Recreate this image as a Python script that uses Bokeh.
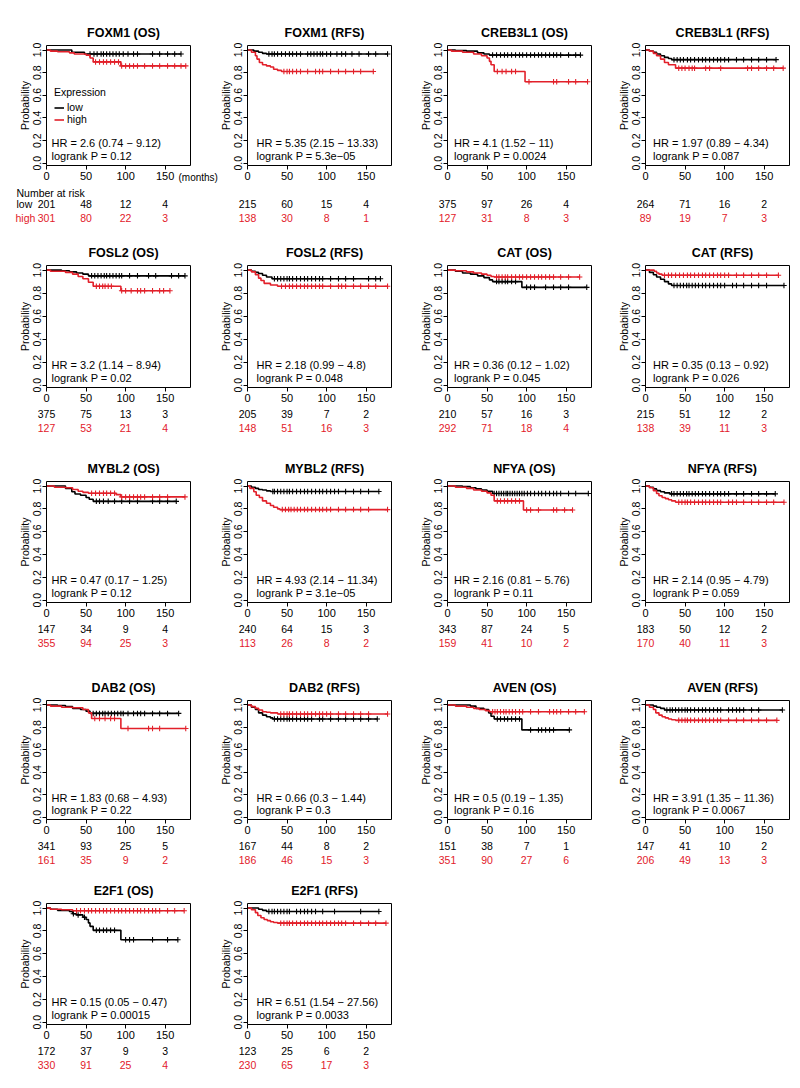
import numpy as np
from bokeh.plotting import figure
from bokeh.layouts import row, column
from bokeh.models import (Legend, LegendItem, FixedTicker, NumeralTickFormatter, Range1d,
                          LinearAxis, BoxAnnotation)
from bokeh.core.properties import value
from bokeh.embed import file_html
from bokeh.resources import INLINE

FONT = "Liberation Sans"
RED = "#E2202A"
BLACK = "#000000"

# ---------------- data ----------------
titles = ["FOXM1 (OS)", "FOXM1 (RFS)", "CREB3L1 (OS)", "CREB3L1 (RFS)",
          "FOSL2 (OS)", "FOSL2 (RFS)", "CAT (OS)", "CAT (RFS)",
          "MYBL2 (OS)", "MYBL2 (RFS)", "NFYA (OS)", "NFYA (RFS)",
          "DAB2 (OS)", "DAB2 (RFS)", "AVEN (OS)", "AVEN (RFS)",
          "E2F1 (OS)", "E2F1 (RFS)"]

hr_text = ["HR = 2.6 (0.74 − 9.12)", "HR = 5.35 (2.15 − 13.33)", "HR = 4.1 (1.52 − 11)", "HR = 1.97 (0.89 − 4.34)",
           "HR = 3.2 (1.14 − 8.94)", "HR = 2.18 (0.99 − 4.8)", "HR = 0.36 (0.12 − 1.02)", "HR = 0.35 (0.13 − 0.92)",
           "HR = 0.47 (0.17 − 1.25)", "HR = 4.93 (2.14 − 11.34)", "HR = 2.16 (0.81 − 5.76)", "HR = 2.14 (0.95 − 4.79)",
           "HR = 1.83 (0.68 − 4.93)", "HR = 0.66 (0.3 − 1.44)", "HR = 0.5 (0.19 − 1.35)", "HR = 3.91 (1.35 − 11.36)",
           "HR = 0.15 (0.05 − 0.47)", "HR = 6.51 (1.54 − 27.56)"]

logrank_p = ["0.12", "5.3e−05", "0.0024", "0.087",
             "0.02", "0.048", "0.045", "0.026",
             "0.12", "3.1e−05", "0.11", "0.059",
             "0.22", "0.3", "0.16", "0.0067",
             "0.00015", "0.0033"]

risk_times = [0, 50, 100, 150]
risk_low = [[201, 48, 12, 4], [215, 60, 15, 4], [375, 97, 26, 4], [264, 71, 16, 2],
            [375, 75, 13, 3], [205, 39, 7, 2], [210, 57, 16, 3], [215, 51, 12, 2],
            [147, 34, 9, 4], [240, 64, 15, 3], [343, 87, 24, 5], [183, 50, 12, 2],
            [341, 93, 25, 5], [167, 44, 8, 2], [151, 38, 7, 1], [147, 41, 10, 2],
            [172, 37, 9, 3], [123, 25, 6, 2]]
risk_high = [[301, 80, 22, 3], [138, 30, 8, 1], [127, 31, 8, 3], [89, 19, 7, 3],
             [127, 53, 21, 4], [148, 51, 16, 3], [292, 71, 18, 4], [138, 39, 11, 3],
             [355, 94, 25, 3], [113, 26, 8, 2], [159, 41, 10, 2], [170, 40, 11, 3],
             [161, 35, 9, 2], [186, 46, 15, 3], [351, 90, 27, 6], [206, 49, 13, 3],
             [330, 91, 25, 4], [230, 65, 17, 3]]

# low expression: event times, survival after each event, last follow-up, censor times (months)
low_t = [[0, 32, 48], [0, 8, 14, 19, 24], [0, 10, 24, 38, 46, 53], [0, 5, 10, 14, 19, 24, 29, 33],
         [0, 19, 29, 38, 46, 53], [0, 5, 10, 14, 19, 24, 31], [0, 10, 19, 29, 38, 46, 53, 57, 94], [0, 5, 10, 14, 19, 24, 29, 33],
         [0, 24, 32, 36, 43, 50, 54, 59], [0, 5, 10, 14, 19, 24, 29], [0, 19, 29, 36, 43, 50, 57], [0, 5, 10, 14, 19, 24, 31],
         [0, 14, 24, 33, 43, 50, 55], [0, 5, 10, 14, 19, 24, 29, 32], [0, 29, 36, 46, 52, 55, 59, 94], [0, 10, 14, 19, 24],
         [0, 5, 14, 29, 33, 38, 46, 50, 53, 55, 59, 94], [0, 14, 19, 24]]
low_s = [[1, 0.98, 0.965], [1, 0.99, 0.98, 0.97, 0.965], [1, 0.995, 0.99, 0.975, 0.965, 0.955], [1, 0.99, 0.98, 0.965, 0.95, 0.935, 0.925, 0.915],
         [1, 0.995, 0.985, 0.975, 0.965, 0.95], [1, 0.99, 0.98, 0.97, 0.955, 0.94, 0.925], [1, 0.99, 0.975, 0.965, 0.95, 0.935, 0.915, 0.9, 0.85], [1, 0.98, 0.96, 0.94, 0.92, 0.9, 0.88, 0.866],
         [1, 0.98, 0.95, 0.93, 0.92, 0.9, 0.885, 0.866], [1, 0.99, 0.98, 0.97, 0.965, 0.958, 0.952], [1, 0.995, 0.985, 0.975, 0.965, 0.955, 0.935], [1, 0.99, 0.975, 0.96, 0.95, 0.94, 0.932],
         [1, 0.995, 0.985, 0.97, 0.96, 0.945, 0.925], [1, 0.98, 0.96, 0.93, 0.91, 0.895, 0.885, 0.875], [1, 0.99, 0.97, 0.96, 0.93, 0.9, 0.875, 0.778], [1, 0.99, 0.98, 0.97, 0.955],
         [1, 0.99, 0.98, 0.97, 0.95, 0.94, 0.92, 0.9, 0.87, 0.84, 0.805, 0.723], [1, 0.99, 0.98, 0.97]]
low_end = [170, 177, 168, 165, 175, 168, 176, 175, 164, 166, 178, 164, 167, 164, 154, 173, 166, 166]
low_cens = [[55, 60, 64, 69, 72, 76, 80, 84, 88, 92, 97, 103, 110, 115, 134, 143, 153, 162, 170],
            [27, 31, 34, 38, 43, 48, 53, 57, 62, 67, 76, 80, 84, 88, 92, 95, 100, 105, 113, 119, 124, 132, 141, 153, 162, 177],
            [57, 62, 67, 72, 76, 81, 86, 91, 95, 100, 105, 110, 115, 119, 124, 129, 134, 138, 143, 153, 162, 168],
            [36, 40, 44, 48, 53, 57, 62, 67, 72, 76, 81, 86, 91, 95, 100, 105, 115, 124, 134, 143, 153, 165],
            [57, 61, 65, 69, 73, 76, 80, 84, 88, 92, 95, 105, 115, 129, 138, 158, 167, 175],
            [34, 38, 42, 46, 50, 53, 57, 62, 67, 72, 76, 81, 86, 91, 95, 105, 115, 124, 134, 153, 162, 168],
            [62, 65, 69, 73, 76, 81, 86, 100, 105, 110, 124, 134, 143, 153, 176],
            [36, 40, 44, 48, 52, 55, 59, 63, 67, 72, 76, 81, 86, 91, 95, 100, 110, 115, 124, 134, 143, 153, 175],
            [63, 67, 72, 78, 86, 95, 105, 115, 134, 143, 153, 164],
            [32, 34, 38, 42, 46, 50, 53, 57, 62, 67, 72, 76, 81, 86, 91, 95, 100, 105, 110, 115, 124, 134, 143, 153, 166],
            [59, 62, 65, 68, 71, 74, 76, 79, 82, 85, 88, 91, 94, 97, 101, 105, 110, 115, 119, 124, 129, 134, 138, 143, 153, 162, 178],
            [33, 36, 40, 44, 48, 52, 55, 59, 63, 67, 72, 76, 81, 86, 91, 95, 100, 105, 115, 124, 134, 143, 153, 164],
            [59, 63, 67, 71, 74, 78, 82, 86, 90, 94, 97, 103, 110, 115, 119, 124, 134, 143, 153, 167],
            [34, 38, 42, 46, 50, 53, 57, 62, 67, 72, 76, 81, 91, 95, 105, 115, 124, 134, 143, 153, 164],
            [63, 67, 72, 76, 81, 86, 91, 105, 115, 119, 124, 129, 134, 154],
            [27, 31, 34, 38, 42, 46, 50, 53, 57, 62, 67, 72, 76, 81, 86, 91, 95, 105, 110, 115, 119, 124, 134, 143, 173],
            [34, 40, 48, 63, 67, 72, 76, 81, 86, 100, 105, 110, 134, 153, 166],
            [27, 31, 34, 38, 42, 46, 50, 53, 62, 67, 72, 76, 81, 86, 95, 110, 143, 166]]

# high expression
high_t = [[0, 5, 14, 29, 35, 50, 55, 59, 94], [0, 5, 10, 12, 15, 19, 24, 29, 33, 38, 43], [0, 5, 19, 33, 43, 50, 53, 55, 59, 98], [0, 5, 10, 14, 19, 24, 29, 38],
          [0, 5, 24, 33, 40, 46, 53, 59, 94], [0, 5, 10, 14, 17, 21, 29, 38], [0, 10, 24, 33, 43, 50, 55, 59], [0, 11, 14, 17, 21],
          [0, 10, 24, 33, 40, 46, 53, 88, 94], [0, 3, 8, 11, 15, 19, 24, 29, 33, 38, 41], [0, 10, 24, 33, 43, 50, 55, 59, 96], [0, 5, 10, 14, 17, 21, 25, 29, 33, 38],
          [0, 5, 19, 33, 46, 53, 57, 94], [0, 5, 10, 14, 19, 24, 29, 38], [0, 10, 24, 33, 40, 48, 53], [0, 5, 10, 13, 17, 21, 25, 29, 33, 38],
          [0, 5, 19, 33], [0, 5, 10, 13, 17, 21, 25, 29, 33, 38]]
high_s = [[1, 0.99, 0.985, 0.975, 0.965, 0.955, 0.93, 0.895, 0.86], [1, 0.98, 0.95, 0.92, 0.89, 0.87, 0.86, 0.85, 0.83, 0.82, 0.81],
          [1, 0.99, 0.98, 0.965, 0.95, 0.93, 0.9, 0.87, 0.81, 0.72], [1, 0.99, 0.97, 0.95, 0.92, 0.89, 0.87, 0.84],
          [1, 0.99, 0.98, 0.965, 0.945, 0.925, 0.895, 0.86, 0.82], [1, 0.985, 0.96, 0.93, 0.91, 0.885, 0.87, 0.86],
          [1, 0.995, 0.985, 0.975, 0.965, 0.955, 0.945, 0.94], [1, 0.99, 0.975, 0.965, 0.955],
          [1, 0.99, 0.985, 0.97, 0.955, 0.945, 0.937, 0.925, 0.905], [1, 0.98, 0.95, 0.92, 0.9, 0.87, 0.85, 0.83, 0.815, 0.8, 0.794],
          [1, 0.99, 0.98, 0.965, 0.955, 0.94, 0.92, 0.87, 0.79], [1, 0.985, 0.96, 0.935, 0.915, 0.9, 0.89, 0.88, 0.87, 0.858],
          [1, 0.99, 0.98, 0.975, 0.96, 0.93, 0.88, 0.79], [1, 0.985, 0.97, 0.955, 0.94, 0.935, 0.93, 0.92],
          [1, 0.99, 0.98, 0.97, 0.96, 0.95, 0.94], [1, 0.98, 0.96, 0.93, 0.91, 0.895, 0.885, 0.875, 0.868, 0.863],
          [1, 0.99, 0.985, 0.977], [1, 0.985, 0.96, 0.935, 0.915, 0.9, 0.89, 0.88, 0.873, 0.868]]
high_end = [176, 159, 177, 174, 156, 177, 167, 168, 175, 177, 158, 175, 176, 177, 173, 166, 174, 175]
high_cens = [[62, 67, 72, 76, 81, 86, 91, 95, 100, 105, 110, 115, 124, 134, 143, 153, 162, 170, 176],
             [46, 50, 53, 57, 62, 67, 76, 86, 91, 95, 105, 115, 124, 134, 143, 159],
             [63, 69, 74, 81, 86, 103, 134, 138, 153, 162, 177],
             [42, 46, 50, 55, 59, 62, 76, 81, 95, 129, 134, 143, 153, 162, 174],
             [63, 67, 71, 74, 78, 82, 95, 100, 107, 115, 119, 124, 134, 143, 148, 156],
             [43, 48, 53, 57, 62, 67, 72, 76, 81, 86, 91, 95, 105, 115, 119, 124, 134, 143, 153, 162, 177],
             [62, 65, 69, 73, 76, 81, 86, 91, 95, 100, 105, 110, 115, 119, 124, 129, 134, 143, 153, 167],
             [24, 29, 33, 38, 43, 48, 53, 57, 62, 67, 72, 76, 81, 86, 91, 95, 100, 105, 115, 124, 134, 143, 153, 168],
             [57, 62, 67, 72, 76, 81, 86, 95, 100, 105, 110, 115, 119, 124, 134, 143, 153, 175],
             [44, 48, 52, 55, 59, 63, 67, 72, 76, 81, 86, 91, 95, 100, 105, 115, 124, 134, 143, 153, 177],
             [63, 67, 72, 76, 81, 86, 91, 100, 105, 115, 134, 138, 148, 158],
             [42, 46, 50, 53, 57, 62, 67, 72, 76, 81, 86, 91, 95, 105, 110, 115, 124, 134, 143, 153, 162, 175],
             [61, 67, 74, 81, 86, 103, 129, 134, 143, 176],
             [42, 46, 50, 53, 57, 62, 67, 72, 76, 81, 86, 91, 95, 100, 105, 115, 124, 134, 143, 153, 177],
             [57, 60, 63, 67, 71, 74, 78, 82, 86, 91, 95, 105, 115, 129, 134, 138, 143, 153, 162, 173],
             [42, 46, 50, 53, 57, 62, 67, 72, 76, 81, 86, 91, 95, 105, 115, 124, 134, 143, 153, 166],
             [38, 43, 48, 53, 57, 62, 67, 72, 76, 81, 86, 91, 95, 100, 105, 110, 115, 119, 124, 129, 134, 138, 143, 153, 162, 174],
             [42, 46, 50, 53, 57, 62, 67, 72, 76, 81, 86, 91, 95, 100, 105, 110, 115, 119, 124, 134, 143, 153, 162, 175]]

x_ticks = [0, 50, 100, 150]
y_ticks = [0, 0.2, 0.4, 0.6, 0.8, 1.0]

# ---------------- layout (pixels) ----------------
XR = (0, 182)          # plotted x range of each box (months)
YR = (-0.02, 1.04)     # plotted y range of each box
FW = 144               # box width
col_w = [218, 200, 198, 184]
col_L = [46, 29, 29, 29]      # box left inside the cell
row_h = [235, 212, 216, 212, 212]
row_T = [45, 30, 34, 37, 28]  # box top inside the cell
row_fh = [120, 122, 121, 119, 121]
hr_x_px = [5, 9, 6.5, 7.5]


def surv_at(t, s, c):
    idx = np.searchsorted(np.array(t), np.array(c), side="right") - 1
    return [s[k] for k in idx]


def txt(p, xs, ys, texts, color=BLACK, size="11px", align="left", style="normal", angle=0):
    p.text(x=xs, y=ys, text=texts, text_font=value(FONT), text_font_size=size,
           text_font_style=style, text_align=align, text_baseline="middle",
           text_color=color, angle=angle)


def make_panel(i, r, c):
    W, L = col_w[c], col_L[c]
    H, T, fh = row_h[r], row_T[r], row_fh[r]
    xppu = FW / (XR[1] - XR[0])
    yppu = fh / (YR[1] - YR[0])
    xr = Range1d(XR[0] - L / xppu, XR[0] + (W - L) / xppu)
    yr = Range1d(YR[0] - (H - T - fh) / yppu, YR[1] + T / yppu)
    p = figure(frame_width=W, frame_height=H, x_range=xr, y_range=yr, min_border=0,
               x_axis_type=None, y_axis_type=None, output_backend="svg", toolbar_location=None)
    p.outline_line_color = None

    # box around the plotting region
    p.add_layout(BoxAnnotation(left=XR[0], right=XR[1], bottom=YR[0], top=YR[1],
                               fill_alpha=0, line_color="black", line_width=1, line_alpha=1))

    # axes on the box edges
    xax = LinearAxis(fixed_location=YR[0], ticker=FixedTicker(ticks=x_ticks))
    yax = LinearAxis(fixed_location=XR[0], ticker=FixedTicker(ticks=y_ticks),
                     formatter=NumeralTickFormatter(format="0.0"), major_label_orientation="vertical")
    for ax in (xax, yax):
        ax.axis_line_color = None
        ax.major_tick_in = 0
        ax.major_tick_out = 4
        ax.major_tick_line_color = "black"
        ax.minor_tick_line_color = None
        ax.major_label_text_font = FONT
        ax.major_label_text_color = "black"
    xax.major_label_text_font_size = "11px"
    xax.major_label_standoff = 2
    yax.major_label_text_font_size = "10.5px"
    yax.major_label_standoff = 1
    p.add_layout(xax, "below")
    p.add_layout(yax, "left")

    # title and y label
    txt(p, [(XR[0] + XR[1]) / 2 + 5 / xppu], [YR[1] + 13 / yppu], [titles[i]],
        size="12.5px", align="center", style="bold")
    txt(p, [XR[0] - 22 / xppu], [(YR[0] + YR[1]) / 2], ["Probability"], size="10.5px",
        align="center", angle=np.pi / 2)

    # survival curves with censor marks
    rends = []
    for t, s, end, cens, col in ((low_t[i], low_s[i], low_end[i], low_cens[i], BLACK),
                                 (high_t[i], high_s[i], high_end[i], high_cens[i], RED)):
        xs = list(t) + [end]
        ys = list(s) + [s[-1]]
        rr = p.step(xs, ys, mode="after", line_color=col, line_width=1.6)
        p.scatter(cens, surv_at(t, s, cens), marker="cross", size=5.5, line_color=col, line_width=1.1)
        rends.append(rr)

    hx = hr_x_px[c] / xppu
    txt(p, [hx, hx], [0.175, 0.063], [hr_text[i], "logrank P = " + logrank_p[i]])

    # number at risk
    if r == 0:
        off_low, off_high = 38.3, 52.7
    else:
        off_low, off_high = 26.2, 40.0
    y_low = YR[0] - off_low / yppu
    y_high = YR[0] - off_high / yppu
    txt(p, risk_times, [y_low] * 4, [str(v) for v in risk_low[i]], size="10.5px", align="center")
    txt(p, risk_times, [y_high] * 4, [str(v) for v in risk_high[i]], size="10.5px", color=RED, align="center")

    if i == 0:
        xl = XR[0] - 30 / xppu
        txt(p, [xl], [YR[0] - 27.3 / yppu], ["Number at risk"], size="10.5px")
        txt(p, [xl], [y_low], ["low"], size="10.5px")
        txt(p, [xl - 1 / xppu], [y_high], ["high"], size="10.5px", color=RED)
        txt(p, [XR[0] + 132 / xppu], [YR[0] - 12.3 / yppu], ["(months)"], size="10px")
        leg = Legend(items=[LegendItem(label="low", renderers=[rends[0]]),
                            LegendItem(label="high", renderers=[rends[1]])],
                     title="Expression", location=(54, 110))
        leg.title_text_font = FONT
        leg.title_text_font_size = "10.5px"
        leg.title_text_font_style = "normal"
        leg.title_text_color = "black"
        leg.title_standoff = 3
        leg.label_text_font = FONT
        leg.label_text_font_size = "10.5px"
        leg.label_text_color = "black"
        leg.glyph_width = 10
        leg.glyph_height = 9
        leg.label_height = 9
        leg.label_standoff = 3
        leg.spacing = 0
        leg.padding = 0
        leg.margin = 0
        leg.border_line_alpha = 0
        leg.background_fill_alpha = 0
        p.add_layout(leg)
    return p


rows = []
for r in range(5):
    cells = []
    for c in range(4):
        i = r * 4 + c
        if i < len(titles):
            cells.append(make_panel(i, r, c))
    rows.append(row(*cells))

layout = column(*rows)
open("out.html", "w").write(file_html(layout, INLINE))
